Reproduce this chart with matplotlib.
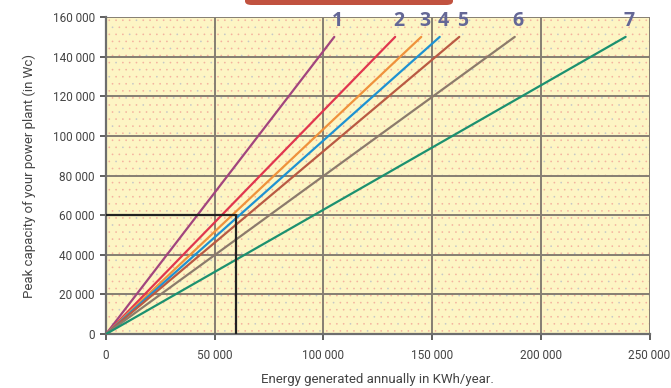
import numpy as np
import matplotlib.pyplot as plt
from matplotlib.patches import FancyBboxPatch
from matplotlib.ticker import FuncFormatter

# curves: straight lines from the origin up to the peak capacity
curve_labels = ["1", "2", "3", "4", "5", "6", "7"]
energy_end = [105000, 133000, 145000, 153500, 162500, 188000, 239000]
peak_end = [150000, 150000, 150000, 150000, 150000, 150000, 150000]
curve_colors = ["#a2457e", "#e0364f", "#ef923c", "#1e92d2", "#b95a43", "#8c7b6c", "#1c9170"]

# example reading shown with the black box
example_energy = 60000
example_peak = 60000

x_ticks = [0, 50000, 100000, 150000, 200000, 250000]
y_ticks = [0, 20000, 40000, 60000, 80000, 100000, 120000, 140000, 160000]


def spaced(v, pos=None):
    return f"{int(v):,}".replace(",", " ")


def main():
    plt.rcParams['font.family'] = ['Roboto', 'DejaVu Sans']
    fig = plt.figure(figsize=(6.71, 3.88), dpi=100)
    ax = fig.add_axes([0.158, 0.139, 0.81, 0.817])

    ax.set_facecolor("#fdf5c4")
    # dotted paper texture
    gx, gy = np.meshgrid(np.linspace(0.006, 0.994, 80), np.linspace(0.01, 0.99, 45))
    gx = gx + (np.arange(45)[:, None] % 2) * 0.006
    dot_cols = np.where((np.arange(gx.size) % 7) == 3, "#b8bcc8", "#f2a296")
    ax.scatter(gx.ravel(), gy.ravel(), s=1.6, c=dot_cols, alpha=0.8,
               transform=ax.transAxes, linewidths=0, zorder=0)

    for lab, xe, ye, col in zip(curve_labels, energy_end, peak_end, curve_colors):
        ax.plot([0, xe], [0, ye], color=col, lw=1.6, zorder=3, solid_capstyle='round')
        ax.text(xe + 1500, ye + 3000, lab, color="#646796", fontsize=14,
                fontweight='bold', ha='center', va='bottom', zorder=4,
                family=['Open Sans', 'DejaVu Sans'])

    ax.plot([0, example_energy, example_energy], [example_peak, example_peak, 0],
            color="#222222", lw=1.6, zorder=5)

    ax.set_xlim(0, 250000)
    ax.set_ylim(0, 160000)
    ax.set_xticks(x_ticks)
    ax.set_yticks(y_ticks)
    ax.xaxis.set_major_formatter(FuncFormatter(spaced))
    ax.yaxis.set_major_formatter(FuncFormatter(spaced))
    ax.grid(True, color="#857e72", lw=1.4, zorder=1)
    ax.set_axisbelow(True)
    ax.tick_params(labelsize=8.5, colors="#444444", length=4, width=1.2)
    ax.tick_params(axis='x', pad=7)
    ax.tick_params(axis='y', pad=4)
    for s in ["top", "right"]:
        ax.spines[s].set_visible(False)
    for s in ["left", "bottom"]:
        ax.spines[s].set_color("#6e6e6e")
        ax.spines[s].set_linewidth(1.6)

    ax.set_xlabel("Energy generated annually in KWh/year.", fontsize=9.5, color="#444444", labelpad=8)
    ax.set_ylabel("Peak capacity of your power plant (in Wc)", fontsize=9.5, color="#444444", labelpad=12)

    # cut-off heading banner at the top
    fig.patches.append(FancyBboxPatch((245 / 671, 383 / 388), 208 / 671, 10 / 388,
                                      boxstyle="round,pad=0,rounding_size=0.01",
                                      transform=fig.transFigure, facecolor="#c1523f",
                                      edgecolor="none"))

    fig.savefig("out.png", dpi=100)


if __name__ == '__main__':
    main()
